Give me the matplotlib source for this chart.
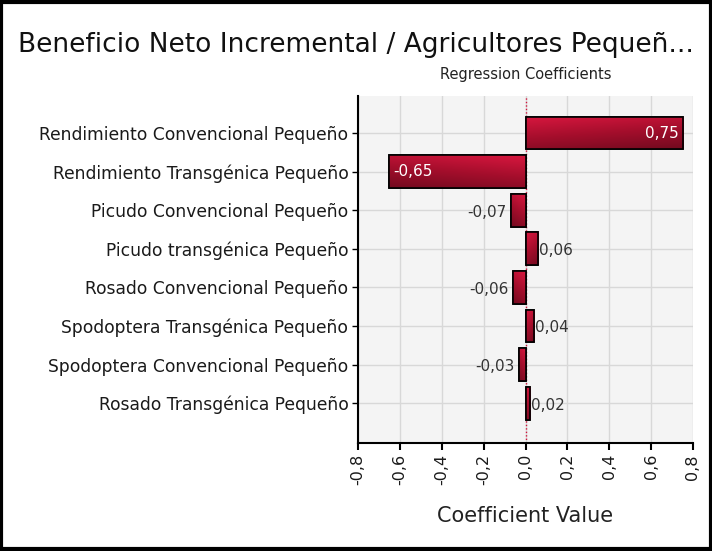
import numpy as np
import matplotlib
matplotlib.use("Agg")
import matplotlib.pyplot as plt
from matplotlib.patches import Rectangle
from matplotlib.colors import LinearSegmentedColormap
from matplotlib.ticker import FuncFormatter

# Data
categories = [
    "Rendimiento Convencional Pequeño",
    "Rendimiento Transgénica Pequeño",
    "Picudo Convencional Pequeño",
    "Picudo transgénica Pequeño",
    "Rosado Convencional Pequeño",
    "Spodoptera Transgénica Pequeño",
    "Spodoptera Convencional Pequeño",
    "Rosado Transgénica Pequeño",
]
coefficients = [0.75, -0.65, -0.07, 0.06, -0.06, 0.04, -0.03, 0.02]
x_ticks = [-0.8, -0.6, -0.4, -0.2, 0.0, 0.2, 0.4, 0.6, 0.8]

plt.rcParams["font.family"] = ["DejaVu Sans"]

fig = plt.figure(figsize=(7.12, 5.51), dpi=100)
ax = fig.add_axes([358 / 712, 1 - 443 / 551, (693 - 358) / 712, (443 - 96) / 551])
ax.set_facecolor("#f4f4f4")

y = np.arange(len(categories))
bar_h = 0.85
bars = ax.barh(y, coefficients, height=bar_h, color="#b3112f", edgecolor="black",
               linewidth=1.2, zorder=3)

# gradient fill for each bar
cmap = LinearSegmentedColormap.from_list("bar", ["#d8173f", "#a50e2c", "#730a1f"])
grad = np.linspace(0, 1, 64).reshape(-1, 1) + np.linspace(0, 0.35, 64).reshape(1, -1)
for b in bars:
    x0, y0 = b.get_x(), b.get_y()
    w, h = b.get_width(), b.get_height()
    im = ax.imshow(grad, cmap=cmap, aspect="auto", zorder=3.5,
                   extent=(x0, x0 + w, y0 + h, y0), origin="upper", vmin=0, vmax=1.35)
    im.set_clip_path(b)
    edge = Rectangle((x0, y0), w, h, fill=False, edgecolor="black", linewidth=1.2, zorder=4)
    ax.add_patch(edge)

ax.set_xlim(-0.8, 0.8)
ax.set_ylim(len(categories) - 1 + 1.03, -0.96)
ax.set_yticks(y)
ax.set_yticklabels(categories, fontsize=12.3, color="#1a1a1a")
ax.set_xticks(x_ticks)
ax.xaxis.set_major_formatter(FuncFormatter(lambda v, p: f"{v:.1f}".replace(".", ",").replace("-0,0", "0,0")))
for lab in ax.get_xticklabels():
    lab.set_rotation(90)
    lab.set_fontsize(11.5)
    lab.set_color("#1a1a1a")

ax.grid(True, color="#d8d8d8", linewidth=1, zorder=0)
ax.set_axisbelow(True)
ax.axvline(0, color="#d0143c", linestyle=(0, (1, 1.5)), linewidth=1, zorder=2)

for s in ["top", "right"]:
    ax.spines[s].set_visible(False)
for s in ["left", "bottom"]:
    ax.spines[s].set_linewidth(1.5)
ax.tick_params(axis="x", direction="out", length=5, width=1.5, pad=3)
ax.tick_params(axis="y", direction="out", length=4, width=1, pad=3)

# value labels
for yi, v in zip(y, coefficients):
    txt = f"{v:.2f}".replace(".", ",")
    if abs(v) > 0.3:
        if v > 0:
            ax.text(v - 0.02, yi, txt, ha="right", va="center", color="white",
                    fontsize=11, zorder=5)
        else:
            ax.text(v + 0.02, yi, txt, ha="left", va="center", color="white",
                    fontsize=11, zorder=5)
    else:
        if v > 0:
            ax.text(v + 0.005, yi + 0.05, txt, ha="left", va="center", color="#333333",
                    fontsize=11, zorder=5)
        else:
            ax.text(v - 0.02, yi + 0.05, txt, ha="right", va="center", color="#333333",
                    fontsize=11, zorder=5)

ax.set_xlabel("Coefficient Value", fontsize=15, color="#222222", labelpad=15)

fig.text(18 / 712, 1 - 45 / 551, "Beneficio Neto Incremental / Agricultores Pequeñ...",
         fontsize=19, color="#111111", ha="left", va="center")
fig.text(526 / 712, 1 - 75 / 551, "Regression Coefficients", fontsize=10.5,
         color="#222222", ha="center", va="center")

# outer frame
fig.patches.append(Rectangle((0.002, 0.003), 0.996, 0.994, transform=fig.transFigure,
                             fill=False, edgecolor="black", linewidth=3))

fig.savefig("out.png", dpi=100)
